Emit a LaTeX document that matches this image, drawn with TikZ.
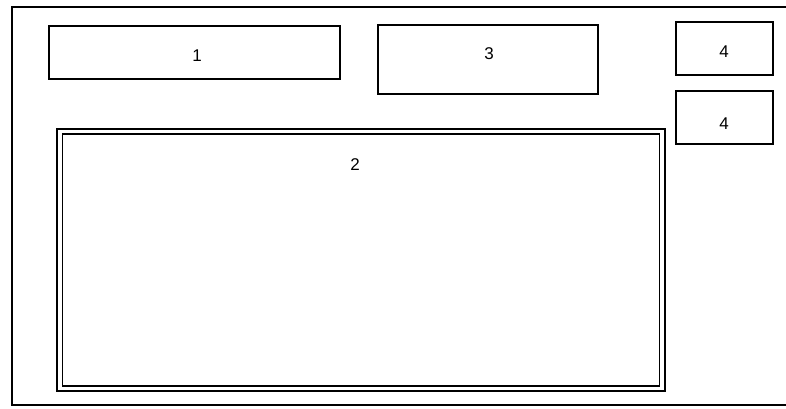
\documentclass[tikz,border=0pt]{standalone}
\usepackage{fontspec}
\setmainfont{Liberation Sans}
\begin{document}
\begin{tikzpicture}[x=1pt,y=-1pt,
  frame/.style={draw=black,line width=1.8pt},
  box/.style={draw=black,line width=1.6pt,inner sep=0pt,minimum width=0pt},
  lbl/.style={font=\fontsize{17}{20}\selectfont,inner sep=0pt}]
\useasboundingbox[fill=white] (0,0) rectangle (786,408);
\coordinate (fa) at (790,7);
\coordinate (fb) at (12,7);
\coordinate (fc) at (12,405);
\coordinate (fd) at (790,405);
\draw[frame] (fa) -- (fb) -- (fc) -- (fd);
% box 1
\draw[box] (49,26) rectangle (340,79);
\node[lbl] (l1) at (197,56) {1};
% box 3
\draw[box] (378,25) rectangle (598,94);
\node[lbl] (l3) at (489,54) {3};
% boxes 4
\draw[box] (676,22) rectangle (773,75);
\node[lbl] (l4a) at (724,52) {4};
\draw[box] (676,91) rectangle (773,144);
\node[lbl] (l4b) at (724,124) {4};
% box 2 double
\draw[box] (57,129) rectangle (665,391);
\draw[box] (62.5,134) rectangle (659.5,386);
\node[lbl] (l2) at (355,165) {2};
\end{tikzpicture}
\end{document}
